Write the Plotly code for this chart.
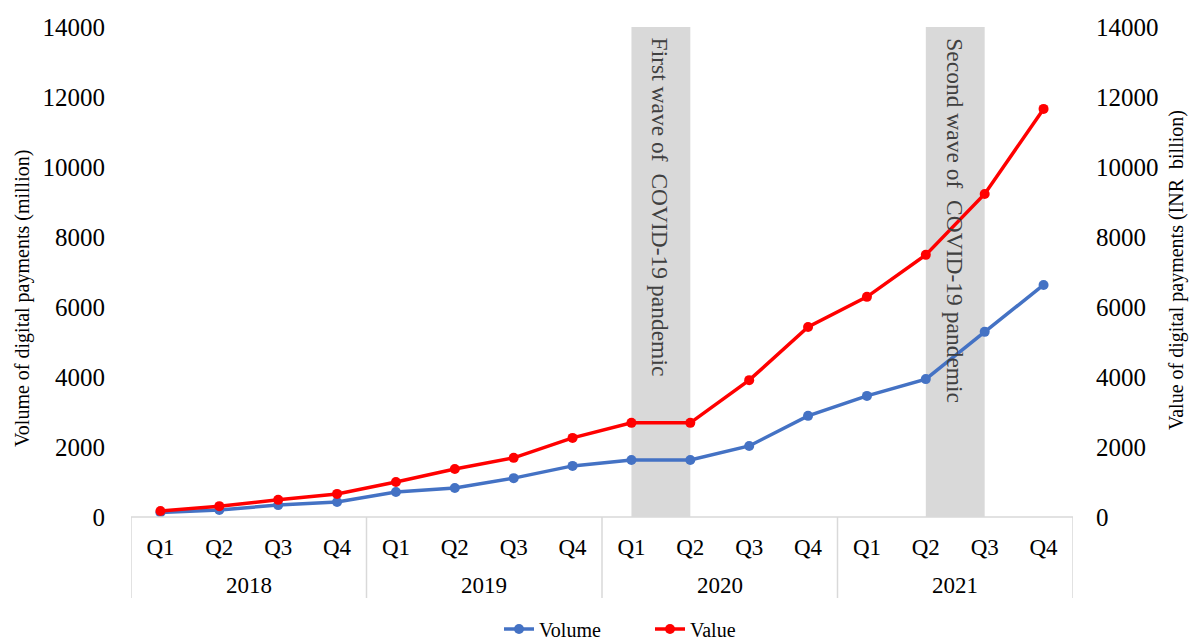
import plotly.graph_objects as go

# Quarterly digital payments, 2018-2021
years = ["2018", "2019", "2020", "2021"]
quarters = ["Q1", "Q2", "Q3", "Q4"]
volume_million = [130, 200, 340, 430, 714, 830, 1110, 1460,
                  1630, 1630, 2030, 2890, 3460, 3940, 5290, 6630]
value_inr_billion = [170, 310, 490, 660, 1000, 1370, 1690, 2260,
                     2690, 2690, 3910, 5430, 6290, 7490, 9230, 11660]
waves = [("First wave of  COVID-19 pandemic", "2020", "Q1", "Q2"),
         ("Second wave of  COVID-19 pandemic", "2021", "Q2", "Q3")]

categories = [f"{y} {q}" for y in years for q in quarters]
idx = {c: i for i, c in enumerate(categories)}
x = list(range(len(categories)))
tick_text = [q for _ in years for q in quarters]

FONT = "Liberation Serif"
W, H = 1190, 641
PLOT_LEFT, PLOT_RIGHT = 131, 1073
PLOT_TOP, PLOT_BOTTOM = 27, 517
PLOT_W = PLOT_RIGHT - PLOT_LEFT
PLOT_H = PLOT_BOTTOM - PLOT_TOP


def py(px):
    """Pixel row -> paper y."""
    return (PLOT_BOTTOM - px) / PLOT_H


def px_x(px):
    """Pixel column -> paper x."""
    return (px - PLOT_LEFT) / PLOT_W


fig = go.Figure()
fig.add_trace(go.Scatter(
    x=x, y=volume_million, name="Volume", mode="lines+markers",
    line=dict(color="#4472C4", width=3.5),
    marker=dict(color="#4472C4", size=10), yaxis="y"))
fig.add_trace(go.Scatter(
    x=x, y=value_inr_billion, name="Value", mode="lines+markers",
    line=dict(color="#FF0000", width=3.5),
    marker=dict(color="#FF0000", size=10), yaxis="y2"))

shapes = []
annotations = []
# shaded pandemic bands with vertical captions
for label, yr, q0, q1 in waves:
    a, b = idx[f"{yr} {q0}"], idx[f"{yr} {q1}"]
    shapes.append(dict(type="rect", xref="x", yref="paper", x0=a, x1=b,
                       y0=0, y1=1, fillcolor="#D9D9D9", line_width=0,
                       layer="below"))
    annotations.append(dict(x=(a + b) / 2, xref="x", y=py(36), yref="paper",
                            text=label, textangle=90, showarrow=False,
                            yanchor="top", xanchor="center",
                            font=dict(family=FONT, size=23.5, color="#404040")))

# category axis frame: baseline and year dividers
shapes.append(dict(type="line", xref="paper", yref="paper", x0=0, x1=1,
                   y0=0, y1=0, line=dict(color="#D9D9D9", width=1.5)))
for k in range(len(years) + 1):
    xv = k * len(quarters) - 0.5
    shapes.append(dict(type="line", xref="x", yref="paper", x0=xv, x1=xv,
                       y0=0, y1=py(598), line=dict(color="#D9D9D9", width=1.5)))

# year labels under the quarter labels
for k, yr in enumerate(years):
    annotations.append(dict(x=k * len(quarters) + 1.5, xref="x", y=py(585),
                            yref="paper", text=yr, showarrow=False,
                            yanchor="middle", xanchor="center",
                            font=dict(family=FONT, size=23, color="#000000")))

# axis titles
annotations.append(dict(x=px_x(22), xref="paper", y=py(299), yref="paper",
                        text="Volume of digital payments (million)", textangle=-90,
                        showarrow=False, xanchor="center", yanchor="middle",
                        font=dict(family=FONT, size=20, color="#000000")))
annotations.append(dict(x=px_x(1176), xref="paper", y=py(270), yref="paper",
                        text="Value of digital payments (INR  billion)", textangle=-90,
                        showarrow=False, xanchor="center", yanchor="middle",
                        font=dict(family=FONT, size=20, color="#000000")))

fig.update_layout(
    width=W, height=H,
    margin=dict(l=PLOT_LEFT, r=W - PLOT_RIGHT, t=PLOT_TOP, b=H - PLOT_BOTTOM,
                autoexpand=False),
    paper_bgcolor="white", plot_bgcolor="white",
    font=dict(family=FONT, color="#000000"),
    showlegend=True,
    legend=dict(orientation="h", x=(650 / W), xanchor="center", xref="container",
                y=(H - 629) / H, yanchor="middle", yref="container",
                entrywidth=106, tracegroupgap=0,
                font=dict(family=FONT, size=20, color="#000000")),
    xaxis=dict(range=[-0.5, len(categories) - 0.5], tickmode="array",
               tickvals=x, ticktext=tick_text, showgrid=False, zeroline=False,
               showline=False, ticks="outside", ticklen=9, automargin=False,
               tickcolor="rgba(0,0,0,0)",
               tickfont=dict(family=FONT, size=23, color="#000000")),
    yaxis=dict(range=[0, 14000], dtick=2000, tickformat="d", showgrid=False,
               zeroline=False, showline=False, ticks="outside", ticklen=20,
               tickcolor="rgba(0,0,0,0)", automargin=False,
               tickfont=dict(family=FONT, size=25, color="#000000")),
    yaxis2=dict(range=[0, 14000], dtick=2000, tickformat="d", overlaying="y",
                side="right", showgrid=False, zeroline=False, showline=False,
                ticks="outside", ticklen=17, tickcolor="rgba(0,0,0,0)",
                automargin=False,
                tickfont=dict(family=FONT, size=25, color="#000000")),
    shapes=shapes, annotations=annotations,
)

fig.write_html("out.html")
